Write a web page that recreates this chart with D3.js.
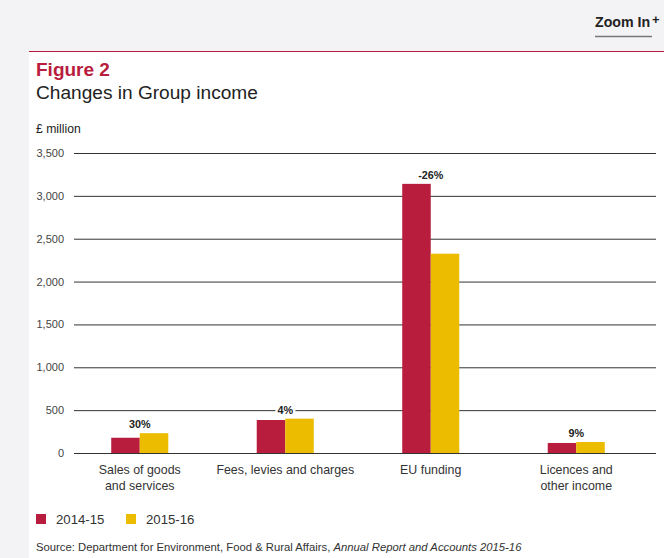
<!DOCTYPE html>
<html>
<head>
<meta charset="utf-8">
<script src="https://cdn.jsdelivr.net/npm/d3@7"></script>
<style>
  html, body { margin: 0; padding: 0; background: #f3f3f5; }
  svg { display: block; font-family: "Liberation Sans", Arial, sans-serif; }
</style>
</head>
<body>
<svg id="chart" width="664" height="558"></svg>
<script>
// Group income by source, £ million
const categories = [["Sales of goods", "and services"], ["Fees, levies and charges"], ["EU funding"], ["Licences and", "other income"]];
const seriesNames = ["2014-15", "2015-16"];
const values2014 = [178, 385, 3140, 117];
const values2015 = [231, 401, 2325, 128];
const changeLabels = ["30%", "4%", "-26%", "9%"];
const yTicks = [0, 500, 1000, 1500, 2000, 2500, 3000, 3500];
const colors = ["#b91d3e", "#ebbc00"];

const svg = d3.select("#chart");

// page panel
svg.append("rect").attr("x", 29).attr("y", 51).attr("width", 635).attr("height", 507).attr("fill", "#fff");
svg.append("line").attr("x1", 29).attr("x2", 664).attr("y1", 51.5).attr("y2", 51.5)
  .attr("stroke", "#b91d3e").attr("stroke-width", 1);

// Zoom In button
const zoomG = svg.append("g");
zoomG.append("text").attr("x", 595).attr("y", 27).attr("font-size", 14.2).attr("font-weight", "bold")
  .attr("fill", "#222").text("Zoom In");
zoomG.append("text").attr("x", 652).attr("y", 24).attr("font-size", 13).attr("font-weight", "bold")
  .attr("fill", "#222").text("+");
zoomG.append("line").attr("x1", 595).attr("x2", 652).attr("y1", 36.5).attr("y2", 36.5)
  .attr("stroke", "#777").attr("stroke-width", 1.5);

// titles
svg.append("text").attr("x", 36).attr("y", 76).attr("font-size", 19).attr("font-weight", "bold")
  .attr("fill", "#b91d3e").text("Figure 2");
svg.append("text").attr("x", 36).attr("y", 99).attr("font-size", 19.1)
  .attr("fill", "#222").text("Changes in Group income");
svg.append("text").attr("x", 36).attr("y", 133).attr("font-size", 12.2)
  .attr("fill", "#222").text("£ million");

// scales
const y = d3.scaleLinear().domain([0, 3500]).range([453, 153]);
const x0 = d3.scaleBand().domain(d3.range(categories.length)).range([67, 649])
  .paddingInner(0.608).paddingOuter(0.304);
const x1 = d3.scaleBand().domain(seriesNames).range([0, x0.bandwidth()]);

// y axis with gridlines
const yAxis = d3.axisLeft(y).tickValues(yTicks).tickFormat(d3.format(",")).tickSize(-582).tickPadding(10);
const yG = svg.append("g").attr("transform", "translate(74,0)").call(yAxis);
yG.select(".domain").remove();
yG.selectAll(".tick line").attr("stroke", "#333").attr("stroke-width", 1);
yG.selectAll(".tick text").attr("font-size", 11).attr("fill", "#444")
  .attr("font-family", "Liberation Sans, Arial, sans-serif");

// bars
const rows = categories.map((c, i) => ({ i, vals: [values2014[i], values2015[i]] }));
const groups = svg.append("g").selectAll("g").data(rows).join("g")
  .attr("transform", d => `translate(${x0(d.i)},0)`);
groups.selectAll("rect").data(d => d.vals.map((v, k) => ({ v, k }))).join("rect")
  .attr("x", d => x1(seriesNames[d.k]))
  .attr("width", x1.bandwidth())
  .attr("y", d => y(d.v))
  .attr("height", d => y(0) - y(d.v))
  .attr("fill", d => colors[d.k]);

// change labels above each pair
rows.forEach(d => {
  const cx = x0(d.i) + x0.bandwidth() / 2;
  const top = y(d3.max(d.vals));
  const g = svg.append("g");
  const t = g.append("text").attr("x", cx).attr("y", top - 5).attr("text-anchor", "middle")
    .attr("font-size", 10.8).attr("font-weight", "bold").attr("fill", "#222").text(changeLabels[d.i]);
  const bb = t.node().getBBox();
  g.insert("rect", "text").attr("x", bb.x - 2).attr("y", bb.y).attr("width", bb.width + 4)
    .attr("height", bb.height).attr("fill", "#fff");
});

// category labels
rows.forEach(d => {
  const cx = x0(d.i) + x0.bandwidth() / 2;
  const t = svg.append("text").attr("text-anchor", "middle").attr("font-size", 12.4).attr("fill", "#333");
  categories[d.i].forEach((line, j) => {
    t.append("tspan").attr("x", cx).attr("y", 473.5 + j * 16).text(line);
  });
});

// legend
seriesNames.forEach((name, k) => {
  const lx = 36 + k * 90;
  svg.append("rect").attr("x", lx).attr("y", 514).attr("width", 10).attr("height", 10).attr("fill", colors[k]);
  svg.append("text").attr("x", lx + 20).attr("y", 524).attr("font-size", 13.2).attr("fill", "#333").text(name);
});

// source note
const src = svg.append("text").attr("x", 36).attr("y", 551).attr("font-size", 11.3).attr("fill", "#333");
src.append("tspan").text("Source: Department for Environment, Food & Rural Affairs, ");
src.append("tspan").attr("font-style", "italic").text("Annual Report and Accounts 2015-16");
</script>
</body>
</html>
